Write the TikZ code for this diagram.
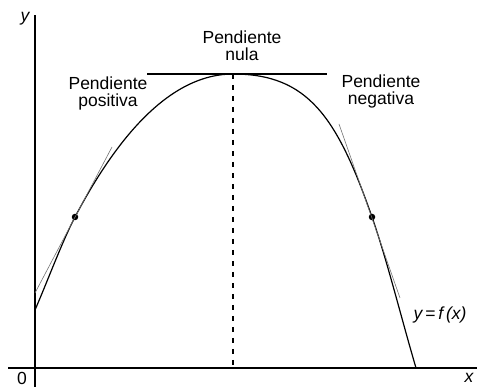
\documentclass[tikz,border=0pt]{standalone}
\usepackage{fontspec}
\setmainfont{Liberation Sans}
\usepackage{tikz}

\begin{document}
\begin{tikzpicture}[
  x=1pt, y=-1pt,
  axis/.style={
    draw=black,
    line width=1.3pt
  },
  curve/.style={
    draw=black,
    line width=1.2pt
  },
  tangent/.style={
    draw=black!55,
    line width=0.6pt
  },
  flat/.style={
    draw=black,
    line width=1.4pt
  },
  guide/.style={
    draw=black,
    line width=1.1pt,
    dash pattern=on 5pt off 6pt
  },
  note/.style={
    align=center,
    inner sep=0pt,
    font=\fontsize{17.5}{17}\selectfont
  },
  dot/.style={
    circle,
    fill=black,
    inner sep=0pt,
    minimum size=6.5pt
  }
]
\useasboundingbox (0,0) rectangle (477,387);

% Axes
\coordinate (ytop) at (35,15);
\coordinate (ybot) at (35,387);
\coordinate (xleft) at (8,368);
\coordinate (xright) at (477,368);
\draw[axis] (ybot) -- (ytop);
\draw[axis] (xleft) -- (xright);
\node[note, font=\fontsize{17.5}{17}\selectfont\itshape] (ylab) at (25,19) {y};
\node[note] (origin) at (22,378) {0};
\node[note, font=\fontsize{17.5}{17}\selectfont\itshape] (xlab) at (469,378) {x};

% Points where the slope is read
\node[dot] (rise) at (75,217) {};
\node[dot] (fall) at (372,217) {};
\coordinate (start) at (35,310);
\coordinate (top) at (233,74);
\coordinate (stop) at (416,368);
\coordinate (foot) at (233,368);

% The function
\draw[curve] (start) .. controls (48,280) and (62,242) .. (rise.center)
  .. controls (120,131.5) and (173,74) .. (top)
  .. controls (308,74) and (337,117) .. (fall.center)
  .. controls (387,260) and (401,317) .. (stop);
\node[note, font=\fontsize{17.5}{17}\selectfont\itshape] (fname) at (440,315) {y\,=\,f\,(x)};

% Tangent lines
\coordinate (riseA) at (35,293);
\coordinate (riseB) at (112,147);
\coordinate (fallA) at (339,124);
\coordinate (fallB) at (400,298);
\coordinate (flatL) at (147,74);
\coordinate (flatR) at (327,74);
\draw[tangent] (riseA) -- (riseB);
\draw[tangent] (fallA) -- (fallB);
\draw[flat] (flatL) -- (flatR);
\draw[guide] (top) -- (foot);

% Slope labels
\node[note] (pos) at (108,93) {Pendiente\\positiva};
\node[note] (zero) at (242,46) {Pendiente\\nula};
\node[note] (neg) at (381,91) {Pendiente\\negativa};

\end{tikzpicture}
\end{document}
